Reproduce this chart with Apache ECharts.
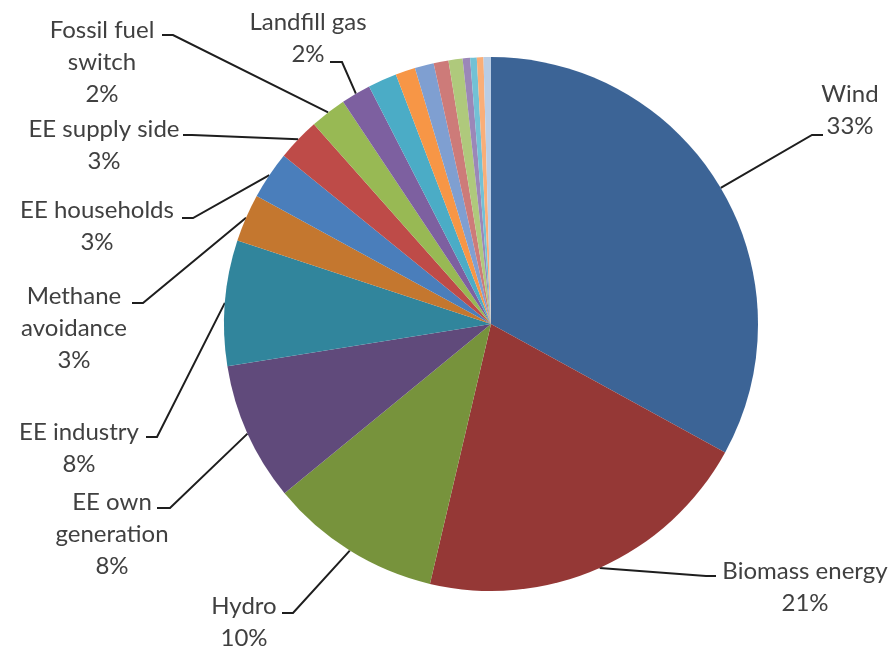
<!DOCTYPE html>
<html>
<head>
<meta charset="utf-8">
<script src="https://cdn.jsdelivr.net/npm/echarts@6/dist/echarts.min.js"></script>
<style>
  html, body { margin: 0; padding: 0; background: #ffffff; }
  #chart { width: 896px; height: 649px; }
</style>
</head>
<body>
<div id="chart"></div>
<script>
// Project types, clockwise from twelve o'clock
const categories = [
  'Wind', 'Biomass energy', 'Hydro', 'EE own generation', 'EE industry',
  'Methane avoidance', 'EE households', 'EE supply side', 'Fossil fuel switch',
  'Landfill gas', 'Other 1', 'Other 2', 'Other 3', 'Other 4', 'Other 5',
  'Other 6', 'Other 7', 'Other 8', 'Other 9'
];
// Share of projects (%)
const shares = [
  33.0, 20.7, 10.4, 8.4, 7.6,
  2.9, 2.9, 2.6, 2.2,
  1.8, 1.75, 1.2, 1.15, 0.9, 0.85,
  0.45, 0.4, 0.4, 0.45
];
const sliceColors = [
  '#3c6496', '#953836', '#77933c', '#604a7b', '#31859c',
  '#c4772f', '#4a7ebb', '#be4b48', '#98b954', '#7d60a0',
  '#4bacc6', '#f79646', '#7f9fd1', '#cd7b79', '#afc97c',
  '#9b87b8', '#72c1d5', '#f9ae78', '#b9cde5'
];

const CENTER = [491, 324];
const RADIUS = 267;

// Where each labelled slice puts its caption and how its leader line bends
const labelSpots = {
  'Wind':               { text: 'Wind',               x: 850, y: 110, bend: [812, 135], end: [823, 135] },
  'Biomass energy':     { text: 'Biomass energy',     x: 805, y: 587, bend: [706, 576], end: [716, 576] },
  'Hydro':              { text: 'Hydro',              x: 244, y: 622, bend: [293, 613], end: [282, 613] },
  'EE own generation':  { text: 'EE own\ngeneration', x: 112, y: 534, bend: [170, 508], end: [157, 508] },
  'EE industry':        { text: 'EE industry',        x: 79,  y: 448, bend: [157, 437], end: [146, 437] },
  'Methane avoidance':  { text: 'Methane\navoidance', x: 74,  y: 328, bend: [143, 303], end: [132, 303] },
  'EE households':      { text: 'EE households',      x: 97,  y: 226, bend: [193, 218], end: [182, 218] },
  'EE supply side':     { text: 'EE supply side',     x: 104, y: 145, bend: [192, 135], end: [183, 135] },
  'Fossil fuel switch': { text: 'Fossil fuel\nswitch',x: 102, y: 62,  bend: [173, 35],  end: [162, 35] },
  'Landfill gas':       { text: 'Landfill gas',       x: 308, y: 38,  bend: [342, 62],  end: [330, 62] }
};

const total = shares.reduce((a, b) => a + b, 0);

// Point on the rim at the middle of each slice
const rimPoints = [];
let acc = 0;
shares.forEach(v => {
  const mid = (acc + v / 2) / total * 2 * Math.PI;
  rimPoints.push([CENTER[0] + RADIUS * Math.sin(mid), CENTER[1] - RADIUS * Math.cos(mid)]);
  acc += v;
});

const data = categories.map((name, i) => {
  const labelled = !!labelSpots[name];
  return {
    name: name,
    value: shares[i],
    itemStyle: { color: sliceColors[i] },
    label: { show: labelled },
    labelLine: { show: labelled }
  };
});

const chart = echarts.init(document.getElementById('chart'), null, { renderer: 'canvas' });
chart.setOption({
  animation: false,
  backgroundColor: '#ffffff',
  series: [{
    type: 'pie',
    center: CENTER,
    radius: RADIUS,
    startAngle: 90,
    clockwise: true,
    avoidLabelOverlap: false,
    data: data,
    itemStyle: { borderWidth: 0 },
    label: {
      position: 'outside',
      fontFamily: 'Lato',
      fontSize: 24,
      lineHeight: 32,
      color: '#404040',
      formatter: p => {
        const spot = labelSpots[p.name];
        const pct = Math.round(p.value / total * 100);
        return (spot ? spot.text : p.name) + '\n' + pct + '%';
      }
    },
    labelLine: {
      show: true,
      smooth: false,
      lineStyle: { color: '#1e1e1e', width: 2 }
    },
    labelLayout: params => {
      const spot = labelSpots[categories[params.dataIndex]];
      if (!spot) return {};
      return {
        x: spot.x,
        y: spot.y,
        align: 'center',
        verticalAlign: 'middle',
        labelLinePoints: [rimPoints[params.dataIndex], spot.bend, spot.end]
      };
    }
  }]
});
</script>
</body>
</html>
